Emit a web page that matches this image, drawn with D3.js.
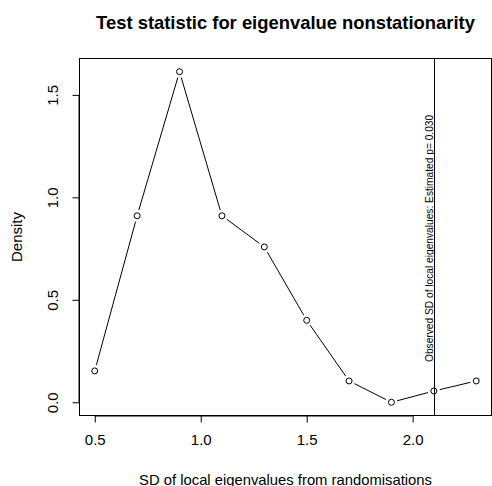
<!DOCTYPE html>
<html>
<head>
<meta charset="utf-8">
<script src="https://cdn.jsdelivr.net/npm/d3@7"></script>
<style>
  body { margin: 0; background: #fff; }
  text { font-family: "Liberation Sans", Arial, sans-serif; fill: #000; }
</style>
</head>
<body>
<div class="chart"></div>
<script>
// values
var sdValues = [0.5, 0.7, 0.9, 1.1, 1.3, 1.5, 1.7, 1.9, 2.1, 2.3];
var densities = [0.153, 0.91, 1.613, 0.91, 0.758, 0.40, 0.104, 0.0, 0.055, 0.104];
var xTicks = [0.5, 1.0, 1.5, 2.0];
var yTicks = [0.0, 0.5, 1.0, 1.5];
var observedSD = 2.1;
var observedLabel = "Observed SD of local eigenvalues: Estimated p= 0.030";
var title = "Test statistic for eigenvalue nonstationarity";
var labelX = "SD of local eigenvalues from randomisations";
var labelY = "Density";

(function () {
var width = 492, height = 486;
var mLeft = 79.5, mRight = 491.5, mTop = 58.5, mBottom = 415.5;

var svg = d3.select(".chart").append("svg")
    .attr("width", width)
    .attr("height", height);

// R style 4% axis extension
var xmin = d3.min(sdValues), xmax = d3.max(sdValues);
var ymin = d3.min(densities), ymax = d3.max(densities);
var xPad = (xmax - xmin) * 0.04, yPad = (ymax - ymin) * 0.04;

var x = d3.scaleLinear().domain([xmin - xPad, xmax + xPad]).range([mLeft, mRight]);
var y = d3.scaleLinear().domain([ymin - yPad, ymax + yPad]).range([mBottom, mTop]);

var data = sdValues.map(function (d, i) { return { x: d, y: densities[i] }; });

// lines with gaps round the points (type = "b")
var gap = 6;
var segs = [];
for (var i = 0; i < data.length - 1; i++) {
  var x1 = x(data[i].x), y1 = y(data[i].y), x2 = x(data[i + 1].x), y2 = y(data[i + 1].y);
  var len = Math.sqrt((x2 - x1) * (x2 - x1) + (y2 - y1) * (y2 - y1));
  if (len <= 2 * gap) continue;
  var ux = (x2 - x1) / len, uy = (y2 - y1) / len;
  segs.push([x1 + ux * gap, y1 + uy * gap, x2 - ux * gap, y2 - uy * gap]);
}
svg.selectAll("line.seg").data(segs).enter().append("line")
    .attr("class", "seg")
    .attr("x1", function (d) { return d[0]; })
    .attr("y1", function (d) { return d[1]; })
    .attr("x2", function (d) { return d[2]; })
    .attr("y2", function (d) { return d[3]; })
    .attr("stroke", "#000")
    .attr("stroke-width", 1);

svg.selectAll("circle").data(data).enter().append("circle")
    .attr("cx", function (d) { return x(d.x); })
    .attr("cy", function (d) { return y(d.y); })
    .attr("r", 3)
    .attr("fill", "none")
    .attr("stroke", "#000")
    .attr("stroke-width", 1);

// box
svg.append("rect")
    .attr("x", mLeft).attr("y", mTop)
    .attr("width", mRight - mLeft).attr("height", mBottom - mTop)
    .attr("fill", "none").attr("stroke", "#000").attr("stroke-width", 1);

// observed line
var ox = Math.round(x(observedSD)) + 0.5;
svg.append("line")
    .attr("x1", ox).attr("x2", ox)
    .attr("y1", mTop).attr("y2", mBottom)
    .attr("stroke", "#000").attr("stroke-width", 1);

svg.append("text")
    .attr("transform", "translate(" + (ox - 1.5) + "," + 362 + ") rotate(-90)")
    .style("font-size", "10.2px")
    .text(observedLabel);

// axes
var xAxis = d3.axisBottom(x).tickValues(xTicks).tickFormat(d3.format(".1f")).tickSize(7).tickPadding(12);
var gx = svg.append("g").attr("transform", "translate(0," + mBottom + ")").call(xAxis);
gx.select(".domain").attr("d", "M" + x(xTicks[0]) + ",0.5H" + x(xTicks[xTicks.length - 1]));
gx.selectAll("text").style("font-size", "15px").attr("font-family", null);

var yAxis = d3.axisLeft(y).tickValues(yTicks).tickFormat(d3.format(".1f")).tickSize(7);
var gy = svg.append("g").attr("transform", "translate(" + mLeft + ",0)").call(yAxis);
gy.select(".domain").attr("d", "M-0.5," + y(yTicks[0]) + "V" + y(yTicks[yTicks.length - 1]));
gy.selectAll(".tick text")
    .attr("x", null).attr("dy", null)
    .attr("transform", "translate(-22,0) rotate(-90)")
    .style("text-anchor", "middle")
    .style("font-size", "15px")
    .attr("font-family", null);

// titles
svg.append("text")
    .attr("x", (mLeft + mRight) / 2).attr("y", 29)
    .style("text-anchor", "middle")
    .style("font-size", "18.4px").style("font-weight", "bold")
    .text(title);

svg.append("text")
    .attr("x", (mLeft + mRight) / 2).attr("y", 485)
    .style("text-anchor", "middle")
    .style("font-size", "14.8px")
    .text(labelX);

svg.append("text")
    .attr("transform", "translate(22," + ((mTop + mBottom) / 2) + ") rotate(-90)")
    .style("text-anchor", "middle")
    .style("font-size", "15px")
    .text(labelY);
})();
</script>
</body>
</html>
